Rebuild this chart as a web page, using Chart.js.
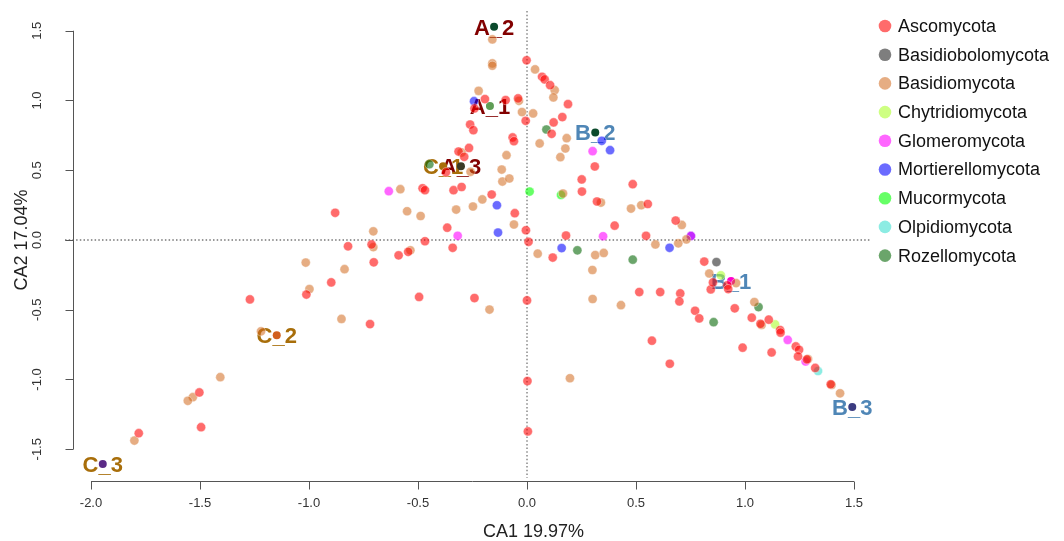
<!DOCTYPE html>
<html>
<head>
<meta charset="utf-8">
<script src="https://cdn.jsdelivr.net/npm/chart.js@4"></script>
<style>
  body { margin: 0; background: #fff; }
</style>
</head>
<body>
<canvas id="caPlot" width="1064" height="541"></canvas>
<script>
// CA biplot: species points coloured by phylum, sample labels on top
const phyla = ["Ascomycota", "Basidiobolomycota", "Basidiomycota", "Chytridiomycota",
  "Glomeromycota", "Mortierellomycota", "Mucormycota", "Olpidiomycota", "Rozellomycota"];

const ascomycota = [
  [-0.002, 1.288], [-0.193, 1.010], [-0.241, 0.943], [-0.098, 1.003], [-0.041, 1.015],
  [-0.006, 0.854], [-0.261, 0.828], [-0.246, 0.787], [-0.066, 0.735], [-0.060, 0.708],
  [-0.266, 0.660], [-0.314, 0.634], [-0.288, 0.596], [-0.372, 0.486], [-0.479, 0.371],
  [-0.468, 0.357], [-0.337, 0.357], [-0.300, 0.380], [-0.162, 0.326], [-0.880, 0.195],
  [-0.056, 0.192], [-0.366, 0.088], [-0.005, 0.070], [-0.821, -0.045], [-0.713, -0.032],
  [-0.468, -0.009], [-0.341, -0.056], [-0.589, -0.110], [-0.545, -0.085], [0.007, -0.013],
  [-0.703, -0.160], [-0.898, -0.304], [-1.012, -0.391], [-1.271, -0.426], [-0.495, -0.408],
  [-0.241, -0.416], [0.000, -0.433], [-0.720, -0.603], [-1.503, -1.093], [-1.495, -1.342],
  [-1.781, -1.385], [0.002, -1.011], [0.004, -1.372], [0.069, 1.170], [0.081, 1.151],
  [0.106, 1.110], [0.188, 0.974], [0.162, 0.881], [0.122, 0.843], [0.113, 0.761],
  [0.311, 0.527], [0.251, 0.434], [0.485, 0.400], [0.252, 0.347], [0.321, 0.276],
  [0.554, 0.258], [0.682, 0.139], [0.402, 0.103], [0.179, 0.032], [0.546, 0.030],
  [0.118, -0.126], [0.813, -0.155], [0.515, -0.373], [0.611, -0.373], [0.703, -0.383],
  [0.699, -0.440], [0.843, -0.354], [0.853, -0.304], [0.771, -0.507], [0.790, -0.562],
  [0.573, -0.722], [0.655, -0.887], [0.919, -0.325], [0.923, -0.352], [0.953, -0.490],
  [1.031, -0.557], [1.071, -0.601], [1.109, -0.571], [1.161, -0.645], [1.163, -0.664],
  [0.989, -0.772], [1.122, -0.806], [1.233, -0.763], [1.248, -0.787], [1.243, -0.835],
  [1.284, -0.856], [1.322, -0.917], [1.393, -1.034]
];
const basidiobolomycota = [[0.869, -0.158]];
const basidiomycota = [
  [-0.159, 1.438], [-0.159, 1.266], [-0.159, 1.249], [-0.222, 1.069], [-0.037, 0.998],
  [-0.023, 0.917], [-0.300, 0.627], [-0.094, 0.608], [-0.259, 0.489], [-0.116, 0.505],
  [-0.113, 0.419], [-0.081, 0.441], [-0.581, 0.364], [-0.205, 0.291], [-0.248, 0.240],
  [-0.325, 0.218], [-0.550, 0.206], [-0.488, 0.172], [-0.060, 0.111], [-0.705, 0.062],
  [-0.705, -0.051], [-0.535, -0.074], [0.049, -0.098], [-1.015, -0.162], [-0.837, -0.209],
  [-0.998, -0.352], [-0.172, -0.499], [-0.851, -0.566], [-1.220, -0.655], [-1.407, -0.983],
  [-1.533, -1.127], [-1.556, -1.153], [-1.801, -1.438], [0.037, 1.223], [0.127, 1.074],
  [0.121, 1.022], [0.028, 0.907], [0.182, 0.730], [0.058, 0.692], [0.176, 0.656],
  [0.153, 0.594], [0.165, 0.333], [0.339, 0.268], [0.477, 0.225], [0.524, 0.249],
  [0.710, 0.108], [0.731, 0.004], [0.694, -0.024], [0.589, -0.032], [0.313, -0.108],
  [0.352, -0.093], [0.300, -0.215], [0.836, -0.240], [0.301, -0.423], [0.431, -0.467],
  [0.197, -0.991], [0.959, -0.309], [1.043, -0.445], [1.076, -0.609], [1.289, -0.853],
  [1.397, -1.039], [1.436, -1.099]
];
const chytridiomycota = [[0.889, -0.253], [1.138, -0.605]];
const glomeromycota = [
  [-0.634, 0.350], [-0.318, 0.030], [0.301, 0.637], [0.349, 0.027],
  [1.196, -0.716], [1.278, -0.871], [0.752, 0.029]
];
const mortierellomycota = [
  [-0.243, 0.995], [-0.138, 0.249], [-0.133, 0.053], [0.343, 0.711],
  [0.381, 0.644], [0.159, -0.058], [0.654, -0.056], [0.752, 0.029]
];
const mucormycota = [[0.012, 0.347], [0.156, 0.323]];
const olpidiomycota = [[1.335, -0.939]];
const rozellomycota = [
  [-0.448, 0.543], [0.089, 0.792], [0.231, -0.074], [0.485, -0.141],
  [0.856, -0.589], [1.062, -0.481]
];

const sampleNames = ["A_1", "A_2", "A_3", "B_1", "B_2", "B_3", "C_1", "C_2", "C_3"];
const sampleX = [-0.170, -0.151, -0.303, 0.936, 0.313, 1.492, -0.385, -1.148, -1.946];
const sampleY = [0.960, 1.529, 0.529, -0.294, 0.771, -1.197, 0.529, -0.682, -1.605];

const xTicks = [-2.0, -1.5, -1.0, -0.5, 0.0, 0.5, 1.0, 1.5];
const yTicks = [-1.5, -1.0, -0.5, 0.0, 0.5, 1.0, 1.5];
const xTitle = "CA1 19.97%";
const yTitle = "CA2 17.04%";

// styles
const phylumColors = ["rgba(255,0,0,0.58)", "rgba(40,40,40,0.6)", "rgba(210,105,30,0.55)",
  "rgba(173,255,47,0.6)", "rgba(255,0,255,0.6)", "rgba(0,0,255,0.58)",
  "rgba(0,255,0,0.6)", "rgba(64,224,208,0.6)", "rgba(0,100,0,0.58)"];
const sampleColors = ["#5f9d55", "#0b4a2c", "#3b3a26", "#ff00cc", "#0b4a2c",
  "#3b3b80", "#a86e0a", "#d2601e", "#5b2a86"];
const groupColors = { A: "#820000", B: "#4f86b6", C: "#a86e0a" };

const phylumData = [ascomycota, basidiobolomycota, basidiomycota, chytridiomycota,
  glomeromycota, mortierellomycota, mucormycota, olpidiomycota, rozellomycota];

const datasets = phyla.map((name, i) => ({
  label: name,
  data: phylumData[i].map(p => ({ x: p[0], y: p[1] })),
  backgroundColor: phylumColors[i],
  borderColor: "rgba(255,255,255,0.5)",
  borderWidth: 0.8,
  pointRadius: 4.6
}));
datasets.push({
  label: "samples",
  data: sampleX.map((x, i) => ({ x: x, y: sampleY[i] })),
  backgroundColor: sampleColors,
  borderWidth: 0,
  pointRadius: 4
});

const rAxes = {
  id: "rAxes",
  beforeDatasetsDraw(chart) {
    const c = chart.ctx, a = chart.chartArea;
    const xs = chart.scales.x, ys = chart.scales.y;
    c.save();
    c.strokeStyle = "#777";
    c.lineWidth = 1.3;
    c.setLineDash([1.5, 2.2]);
    const y0 = ys.getPixelForValue(0), x0 = xs.getPixelForValue(0);
    c.beginPath();
    c.moveTo(a.left - 8, y0); c.lineTo(a.right, y0);
    c.moveTo(x0, a.top + 2); c.lineTo(x0, a.bottom - 3);
    c.stroke();
    c.setLineDash([]);
    // sample labels under the points
    c.font = "bold 22px 'Liberation Sans', Arial, sans-serif";
    c.textAlign = "center";
    c.textBaseline = "alphabetic";
    sampleNames.forEach((n, i) => {
      if (n[0] === "C") return;
      c.fillStyle = groupColors[n[0]];
      c.fillText(n, xs.getPixelForValue(sampleX[i]), ys.getPixelForValue(sampleY[i]) + 8);
    });
    sampleNames.forEach((n, i) => {
      if (n[0] !== "C") return;
      c.fillStyle = groupColors[n[0]];
      c.fillText(n, xs.getPixelForValue(sampleX[i]), ys.getPixelForValue(sampleY[i]) + 8);
    });
    c.restore();
  },
  afterDraw(chart) {
    const c = chart.ctx, a = chart.chartArea;
    const xs = chart.scales.x, ys = chart.scales.y;
    c.save();
    c.strokeStyle = "#555";
    c.lineWidth = 1;
    // x axis
    const xa = a.bottom + 0.5;
    c.beginPath();
    c.moveTo(xs.getPixelForValue(xTicks[0]), xa);
    c.lineTo(xs.getPixelForValue(xTicks[xTicks.length - 1]), xa);
    xTicks.forEach(t => {
      const px = Math.round(xs.getPixelForValue(t)) + 0.5;
      c.moveTo(px, xa); c.lineTo(px, xa + 8);
    });
    // y axis
    const ya = a.left + 0.5;
    c.moveTo(ya, ys.getPixelForValue(yTicks[0]));
    c.lineTo(ya, ys.getPixelForValue(yTicks[yTicks.length - 1]));
    yTicks.forEach(t => {
      const py = Math.round(ys.getPixelForValue(t)) + 0.5;
      c.moveTo(ya, py); c.lineTo(ya - 8, py);
    });
    c.stroke();

    c.fillStyle = "#333";
    c.font = "13px 'Liberation Sans Narrow', 'Liberation Sans', sans-serif";
    c.textAlign = "center";
    c.textBaseline = "middle";
    xTicks.forEach(t => c.fillText(t.toFixed(1), xs.getPixelForValue(t), 503));
    yTicks.forEach(t => {
      c.save();
      c.translate(37, ys.getPixelForValue(t));
      c.rotate(-Math.PI / 2);
      c.fillText(t.toFixed(1), 0, 0);
      c.restore();
    });

    c.fillStyle = "#222";
    c.font = "18px 'Liberation Sans', Arial, sans-serif";
    c.fillText(xTitle, xs.getPixelForValue(0.03), 532);
    c.save();
    c.translate(22, ys.getPixelForValue(0));
    c.rotate(-Math.PI / 2);
    c.fillText(yTitle, 0, 0);
    c.restore();

    // legend
    c.fillStyle = "#fff";
    c.fillRect(870, 0, 194, 280);
    c.font = "18px 'Liberation Sans', Arial, sans-serif";
    c.textAlign = "left";
    phyla.forEach((name, i) => {
      const ly = 26 + i * 28.7;
      c.beginPath();
      c.arc(885, ly, 6.3, 0, Math.PI * 2);
      c.fillStyle = chart.data.datasets[i].backgroundColor;
      c.fill();
      c.fillStyle = "#111";
      c.fillText(name, 898, ly + 1);
    });
    c.restore();
  }
};

new Chart(document.getElementById("caPlot").getContext("2d"), {
  type: "scatter",
  data: { datasets: datasets },
  options: {
    responsive: false,
    animation: false,
    layout: { padding: { left: 73, right: 182, top: 9, bottom: 60 } },
    scales: {
      x: { type: "linear", min: -2.0826, max: 1.6284, display: false },
      y: { type: "linear", min: -1.7276, max: 1.6559, display: false }
    },
    plugins: { legend: { display: false }, tooltip: { enabled: false } }
  },
  plugins: [rAxes]
});
</script>
</body>
</html>
